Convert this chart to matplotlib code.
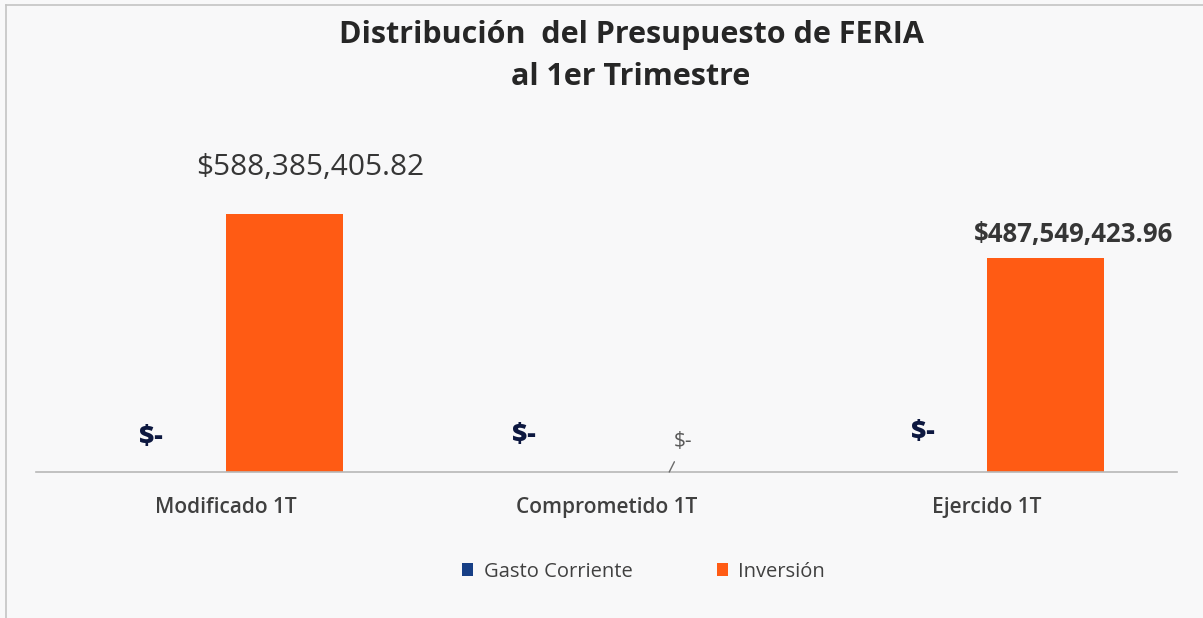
import matplotlib.pyplot as plt
import numpy as np

plt.rcParams['font.family'] = ['Open Sans', 'DejaVu Sans']

# datos
categorias = ['Modificado 1T', 'Comprometido 1T', 'Ejercido 1T']
gasto_corriente = [0.0, 0.0, 0.0]
inversion = [588385405.82, 0.0, 487549423.96]
series = ['Gasto Corriente', 'Inversión']

color_gasto = '#173f86'
color_inv = '#ff5b14'


def etiqueta(v):
    if v == 0:
        return '$-'
    return '${:,.2f}'.format(v)


fig = plt.figure(figsize=(12.03, 6.18), dpi=100, facecolor='#f8f8f9')
ax = fig.add_axes([0.0299, 0.2362, 0.9485, 0.497])
ax.set_facecolor('none')

x = np.arange(len(categorias))
w = 0.308
b1 = ax.bar(x - w / 2, gasto_corriente, w, color=color_gasto, label=series[0])
b2 = ax.bar(x + w / 2, inversion, w, color=color_inv, label=series[1])

ax.set_xlim(-0.5, 2.5)
ax.set_ylim(0, 700e6)

# eje
for s in ['top', 'right', 'left']:
    ax.spines[s].set_visible(False)
ax.spines['bottom'].set_color('#b8b8b8')
ax.spines['bottom'].set_linewidth(1.2)
ax.set_yticks([])
ax.set_xticks(x)
ax.set_xticklabels(categorias, fontsize=15, fontweight='semibold', color='#404040')
ax.tick_params(axis='x', length=0, pad=18)

# etiquetas de Gasto Corriente
off_gasto = [(-17, 35), (-24, 37), (-5, 40)]
for i, v in enumerate(gasto_corriente):
    ax.annotate(etiqueta(v), xy=(x[i] - w / 2, v), xytext=off_gasto[i],
                textcoords='offset pixels', ha='center', va='center',
                fontsize=19, fontweight='heavy', color='#0d1840')

# etiquetas de Inversion
ax.annotate(etiqueta(inversion[0]), xy=(x[0] + w / 2, inversion[0]), xytext=(25, 46),
            textcoords='offset pixels', ha='center', va='center',
            fontsize=21.5, fontweight='medium', color='#363636')
ax.annotate(etiqueta(inversion[2]), xy=(x[2] + w / 2, inversion[2]), xytext=(28, 24),
            textcoords='offset pixels', ha='center', va='center',
            fontsize=18.5, fontweight='bold', color='#363636')
ax.annotate(etiqueta(inversion[1]), xy=(x[1] + w / 2 + 0.011, 0), xytext=(14, 31),
            textcoords='offset pixels', ha='center', va='center',
            fontsize=15, color='#595959',
            arrowprops=dict(arrowstyle='-', color='#6a6a6a', lw=1,
                            shrinkA=6, shrinkB=0, relpos=(0.3, 0.0)))

# titulo
fig.text(0.5245, 0.943, 'Distribución  del Presupuesto de FERIA', ha='center', va='center',
         fontsize=22, fontweight='bold', color='#262626')
fig.text(0.5245, 0.876, 'al 1er Trimestre', ha='center', va='center',
         fontsize=22, fontweight='bold', color='#262626')

# leyenda
fig.legend(handles=[b1, b2], labels=series, loc='center', bbox_to_anchor=(0.535, 0.075),
           ncol=2, frameon=False, fontsize=14.5, handlelength=0.55, handleheight=0.55,
           columnspacing=4.2, handletextpad=0.5, labelcolor='#404040')

# borde del grafico
fig.add_artist(plt.Line2D([0.005, 1.0], [0.992, 0.992], color='#c4c4c4', lw=1.2))
fig.add_artist(plt.Line2D([0.005, 0.005], [0.0, 0.992], color='#c4c4c4', lw=1.2))

fig.savefig('out.png', dpi=100, facecolor=fig.get_facecolor())
